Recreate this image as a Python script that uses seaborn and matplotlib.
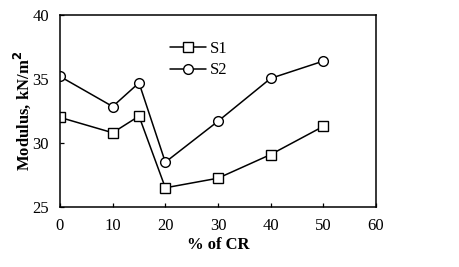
import pandas as pd
import seaborn as sns
import matplotlib.pyplot as plt

# values
cr = [0, 10, 15, 20, 30, 40, 50]
s1 = [32.0, 30.8, 32.1, 26.5, 27.25, 29.1, 31.3]
s2 = [35.2, 32.85, 34.7, 28.5, 31.7, 35.05, 36.4]

df = pd.DataFrame({'CR': cr * 2, 'Modulus': s1 + s2,
                   'Series': ['S1'] * len(cr) + ['S2'] * len(cr)})

sns.set_style('ticks', {'text.color': 'black', 'axes.labelcolor': 'black',
                        'xtick.color': 'black', 'ytick.color': 'black'})
plt.rcParams['font.family'] = ['Liberation Serif', 'DejaVu Serif']

fig = plt.figure(figsize=(4.59, 2.67), dpi=100)
ax = fig.add_axes([60 / 459, 1 - 207 / 267, 316 / 459, 192 / 267])
sns.lineplot(data=df, x='CR', y='Modulus', style='Series', markers=['s', 'o'],
             dashes=False, color='black', lw=1.1, ms=7, mfc='white', mec='black',
             mew=1.0, ax=ax)

ax.set_xlim(0, 60)
ax.set_ylim(25, 40)
ax.set_xticks(range(0, 61, 10))
ax.set_yticks([25, 30, 35, 40])
ax.tick_params(direction='in', labelsize=12, length=3, width=0.9, pad=8)
ax.set_xlabel('% of CR', fontsize=12, fontweight='bold')
ax.set_ylabel('Modulus, kN/m$^\\mathbf{2}$', fontsize=12, fontweight='bold')
ax.xaxis.set_label_coords(0.5, -0.155)
ax.yaxis.set_label_coords(-0.085, 0.5)
for s in ax.spines.values():
    s.set_linewidth(1.1)
    s.set_color('black')

ax.legend(title=None, frameon=False, loc='upper left', bbox_to_anchor=(0.3, 0.945),
          fontsize=12, handlelength=2.2, handletextpad=0.2, labelspacing=0.35)

fig.savefig('out.png', dpi=100)
